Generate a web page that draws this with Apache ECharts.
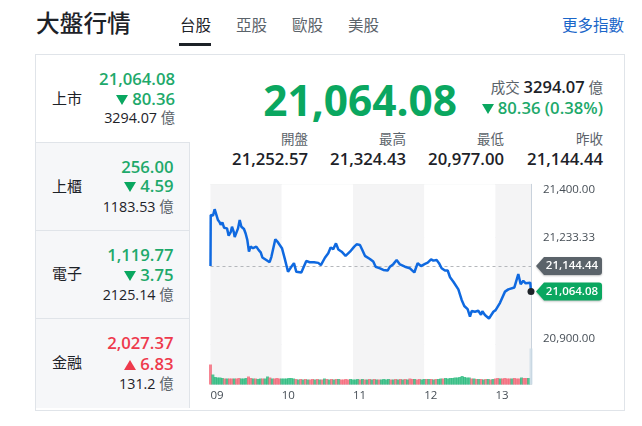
<!DOCTYPE html>
<html lang="zh-Hant">
<head>
<meta charset="utf-8">
<title>大盤行情</title>
<script src="https://cdn.jsdelivr.net/npm/echarts@6/dist/echarts.min.js"></script>
<style>
html,body{margin:0;padding:0;width:642px;height:426px;overflow:hidden;background:#fff}
body{font-family:"Open Sans","Noto Sans CJK TC",sans-serif;color:#1d2228}
.a{position:absolute;white-space:nowrap;line-height:1}
.r{text-align:right}
#chart{position:absolute;left:0;top:0;width:642px;height:426px}
.box{position:absolute;left:35px;top:54px;width:588px;height:355px;border:1px solid #e0e4e9;box-sizing:content-box}
.cell{position:absolute;left:36px;width:153px;background:#f6f7f9;border-right:1px solid #e0e4e9;border-top:1px solid #e0e4e9;box-sizing:content-box}
.g{color:#1ea96b}.d{color:#ee3a4d}
.v{font-weight:600;font-size:16.7px}
.tri{display:inline-block;width:0;height:0;border-left:6px solid transparent;border-right:6px solid transparent;margin-right:4px}
.dn{border-top:10px solid #0aa760;vertical-align:0}
.up{border-bottom:10px solid #ee3a4d;vertical-align:0}
.gray{color:#5b636a}
</style>
</head>
<body>
<div class="a" style="left:36px;top:12px;font-size:23.7px;font-weight:500">大盤行情</div>
<div class="a" id="tabs"></div>
<div class="a" style="left:179px;top:43px;width:32px;height:2.5px;background:#1d2228"></div>
<div class="a r" style="right:18px;top:18px;font-size:15.5px;color:#1a66c9">更多指數</div>
<div class="box"></div>
<div id="panel"></div>
<div id="head"></div>
<div id="chart"></div>
<script>
const tabs = ["台股","亞股","歐股","美股"];
const tabX = [180,236,292,348];
const markets = [
  {name:"上市",price:"21,064.08",chg:"80.36",vol:"3294.07",dir:"dn"},
  {name:"上櫃",price:"256.00",chg:"4.59",vol:"1183.53",dir:"dn"},
  {name:"電子",price:"1,119.77",chg:"3.75",vol:"2125.14",dir:"dn"},
  {name:"金融",price:"2,027.37",chg:"6.83",vol:"131.2",dir:"up"}
];
const statNames = ["開盤","最高","最低","昨收"];
const statValues = ["21,252.57","21,324.43","20,977.00","21,144.44"];
const lastPrice = 21064.08;
const prevClose = 21144.44;

// [minutes since 09:00, index]
const pricePoints = [
[0,21144.44],[0.2,21304],[1.3,21309],[2.1,21302],[3.5,21322],[4.9,21318],[6.3,21288],[7.7,21281],[8.6,21273],[10,21281],
[11.4,21264],[12.8,21260],[13.9,21262],[15.3,21239],[17,21250],[18.1,21267],[19.5,21252],[20.4,21235],[21.8,21239],[23.2,21262],
[24.6,21288],[26,21267],[28.2,21260],[29.6,21246],[31,21226],[32.4,21189],[33.8,21205],[35.8,21200],[38.6,21205],[40.6,21194],
[42.3,21187],[43.7,21171],[47,21163],[49.8,21156],[51.3,21173],[52.7,21168],[54.6,21228],[56.9,21218],[60.2,21200],[62.5,21168],
[65.3,21126],[68.1,21142],[70.3,21153],[72.3,21126],[76.5,21124],[77.9,21119],[80.7,21160],[83.5,21156],[87.2,21156],[90.8,21154],
[93,21147],[96.4,21170],[99.2,21184],[101.2,21202],[103.4,21197],[105.7,21215],[107.7,21196],[110.5,21189],[113.8,21176],[117.5,21189],
[121.1,21205],[123.1,21212],[125.9,21210],[127.9,21194],[130.1,21176],[134.3,21166],[137.1,21158],[139.1,21142],[142.8,21137],[145.6,21132],
[149.2,21130],[151.2,21142],[154,21150],[155.4,21145],[156.8,21163],[159.6,21149],[163.8,21142],[168,21137],[171.7,21124],[174.5,21153],
[177.3,21144],[180.7,21151],[183,21155],[185.8,21165],[187.7,21161],[190.5,21163],[192.5,21153],[194.7,21137],[197.5,21130],[199.8,21130],
[201.8,21109],[204.6,21095],[208.8,21071],[211.6,21038],[213.8,21019],[216.6,21009],[218.6,20986],[220,21003],[222.8,21001],[225.6,21004],
[227.9,20991],[229,21003],[231.2,20991],[234.6,20980],[238.3,21001],[240.2,21006],[243.9,21029],[248.1,21064],[250.9,21071],[256,21077],
[259.3,21119],[261.3,21087],[263.5,21098],[265.5,21090],[269.4,21092],[270,21064.08]
];
// one bar every 2 minutes, 09:00 to 13:30
const volumes = [
20,10,7.5,7,7,6.5,6,6,6,6,6,6,6.5,6,6,6.5,8,6.5,6,6,5.5,6,6,6,8,7,6,6,6.5,6,6,6,6,6.5,6.5,6,
5.5,5,5.5,5,5.5,5,5,5.5,5,5.5,5,5,6,5.5,5,5.5,5,5.5,5.5,5,5,5.5,5,5.5,5,5,5.5,5,5.5,5,5,5.5,5,5.5,5,5,
5,5.5,5,5.5,5,5,5.5,5,5.5,5,5.5,5,6,5.5,5.5,5,5.5,5,5.5,5.5,5.5,5.5,5,5.5,
5.5,6,6,6.5,6,6.5,6.5,7,7,7.5,
8.5,7.5,7,7,6,6,
5.5,5.5,5.5,5,5.5,5.5,5,5.5,
6,6.5,6,6,6.5,6,6,6,6.5,6,6,7,6.5,6.5,6.5,
36
];
const volumeDirs = [
"r","g","g","g","g","g","r","g","r","r","g","r","r","g","g","g","r","r","g","r","g","g","r","g","g","r","g","r","r","r","g","g","g","g","g","g",
"r","g","r","g","r","g","r","r","g","r","g","r","g","r","g","r","g","r","g","r","r","r","r","g","g","g","g","r","g","r","g","r","g","r","g","r",
"g","g","g","g","r","g","r","g","r","g","r","g","r","r","g","r","r","g","g","r","g","r","g","r",
"g","g","r","g","g","g","g","g","g","g",
"g","g","g","g","r","g",
"r","g","r","g","r","g","r","g",
"r","r","g","r","r","r","r","g","r","r","r","g","r","r","g",
"n"
];
const hourTicks = {0:"09",60:"10",120:"11",180:"12",240:"13"};
const yMin = 20900, yMax = 21400, yStep = 500/3;

document.getElementById("tabs").innerHTML = tabs.map((t,i)=>`<div class="a" style="left:${tabX[i]}px;top:18px;font-size:15.5px;color:${i?'#5b636a':'#1d2228'}">${t}</div>`).join("");

const cellTop=[55,142,230,318], cellH=[87,87,87,89];
const nameOff=[36,37,36,37], priceOff=[15.5,16.5,16.5,16.5], chgOff=[35.5,35.5,36.5,37.5], volOff=[56,58,58,59];
document.getElementById("panel").innerHTML = markets.map((m,i)=>{
  const t=cellTop[i], c=m.dir==="up"?"d":"g", rx=642-(i===0?175:173.5);
  const bg=i===0?'':`<div class="cell" style="top:${t}px;height:${cellH[i]}px"></div>`;
  return bg+
  `<div class="a" style="left:52px;top:${t+nameOff[i]}px;font-size:15px">${m.name}</div>`+
  `<div class="a r v ${c}" style="right:${rx}px;top:${t+priceOff[i]}px">${m.price}</div>`+
  `<div class="a r v ${c}" style="right:${rx}px;top:${t+chgOff[i]}px"><span class="tri ${m.dir}"></span>${m.chg}</div>`+
  `<div class="a r" style="right:${rx}px;top:${t+volOff[i]}px;font-size:14.3px">${m.vol} <span class="gray">億</span></div>`;
}).join("");

const statRight=[308,406,504,603];
document.getElementById("head").innerHTML =
 `<div class="a r" style="right:185px;top:79px;font-size:42.4px;font-weight:700;color:#0aa760">21,064.08</div>`+
 `<div class="a r" style="right:39px;top:79px;font-size:14.5px;color:#1d2228"><span class="gray">成交</span> <b style="font-weight:600;font-size:16.5px">3294.07</b> <span class="gray">億</span></div>`+
 `<div class="a r g" style="right:39px;top:100px;font-size:16.7px;font-weight:600"><span class="tri dn"></span>80.36 (0.38%)</div>`+
 statNames.map((s,i)=>`<div class="a r gray" style="right:${642-statRight[i]}px;top:133px;font-size:13.5px">${s}</div>`+
 `<div class="a r" style="right:${642-statRight[i]}px;top:151px;font-size:16.7px;font-weight:600">${statValues[i]}</div>`).join("");

const chart = echarts.init(document.getElementById("chart"), null, {width:642,height:426});
const bands = {show:true,areaStyle:{color:["#f4f4f5","#ffffff"]}};
const xBase = {type:"value",min:0,max:270,interval:60,splitLine:{show:false},axisTick:{show:false},splitArea:bands};
const tagPath = "path://M0,9 L8,0 L63,0 Q66,0 66,3 L66,15 Q66,18 63,18 L8,18 Z";
const fmtNum = v => v.toLocaleString("en-US",{minimumFractionDigits:2,maximumFractionDigits:2});
const tag = (val,color) => ({
  coord:[270,val],symbol:tagPath,symbolSize:[66,18],symbolOffset:[38,0],
  itemStyle:{color,shadowBlur:2,shadowColor:"rgba(0,0,0,.25)",shadowOffsetY:1},
  label:{show:true,position:"inside",offset:[3,0],formatter:fmtNum(val),color:"#fff",fontSize:11.5,fontWeight:600,fontFamily:'"Open Sans"'}
});
chart.setOption({
  animation:false,
  backgroundColor:"transparent",
  textStyle:{fontFamily:'"Open Sans","Noto Sans CJK TC",sans-serif'},
  grid:[
    {left:210.5,width:320.5,top:184.3,height:159.7},
    {left:210.5,width:320.5,top:344,height:40.5}
  ],
  xAxis:[
    Object.assign({},xBase,{gridIndex:0,axisLine:{show:false},axisLabel:{show:false}}),
    Object.assign({},xBase,{gridIndex:1,axisLine:{show:true,onZero:false,lineStyle:{color:"#e3e5e8"}},
      axisLabel:{show:true,align:"left",margin:5,fontSize:11.5,color:"#464e56",showMaxLabel:false,formatter:v=>hourTicks[v]||""}})
  ],
  yAxis:[
    {type:"value",gridIndex:0,position:"right",min:yMin,max:yMax,interval:yStep,
     axisLine:{show:true,onZero:false,lineStyle:{color:"#c9d2dc"}},axisTick:{show:false},
     splitLine:{show:true,lineStyle:{color:"#ecedef"}},
     axisLabel:{show:true,margin:12,fontSize:11.5,color:"#464e56",verticalAlignMinLabel:"bottom",verticalAlignMaxLabel:"top",
       formatter:v=>Math.abs(v-21066.67)<1?"":fmtNum(v)}},
    {type:"value",gridIndex:1,position:"right",min:0,max:40.5,
     axisLine:{show:true,onZero:false,lineStyle:{color:"#c9d2dc"}},axisTick:{show:false},axisLabel:{show:false},splitLine:{show:false}}
  ],
  series:[
    {type:"bar",xAxisIndex:1,yAxisIndex:1,barWidth:3,
     data:volumes.map((v,i)=>({value:[i*2,v],itemStyle:{
       color:volumeDirs[i]==="r"?"#f4566a":volumeDirs[i]==="g"?"#12b36f":"#c9d9e6",opacity:0.72}}))},
    {type:"line",xAxisIndex:0,yAxisIndex:0,data:pricePoints,showSymbol:false,smooth:false,
     lineStyle:{color:"#0f69e0",width:2.5},z:5,clip:false,
     markLine:{silent:true,symbol:"none",label:{show:false},
       lineStyle:{color:"#b4b7bb",type:[3,3],width:1},
       data:[[{coord:[0,prevClose]},{coord:[270,prevClose]}]]},
     markPoint:{silent:true,z:10,data:[
       tag(prevClose,"#5b636a"),
       tag(lastPrice,"#0aa760"),
       {coord:[270,lastPrice],symbol:"circle",symbolSize:7,itemStyle:{color:"#1d2228"},label:{show:false}}
     ]}}
  ]
});
</script>
</body>
</html>
